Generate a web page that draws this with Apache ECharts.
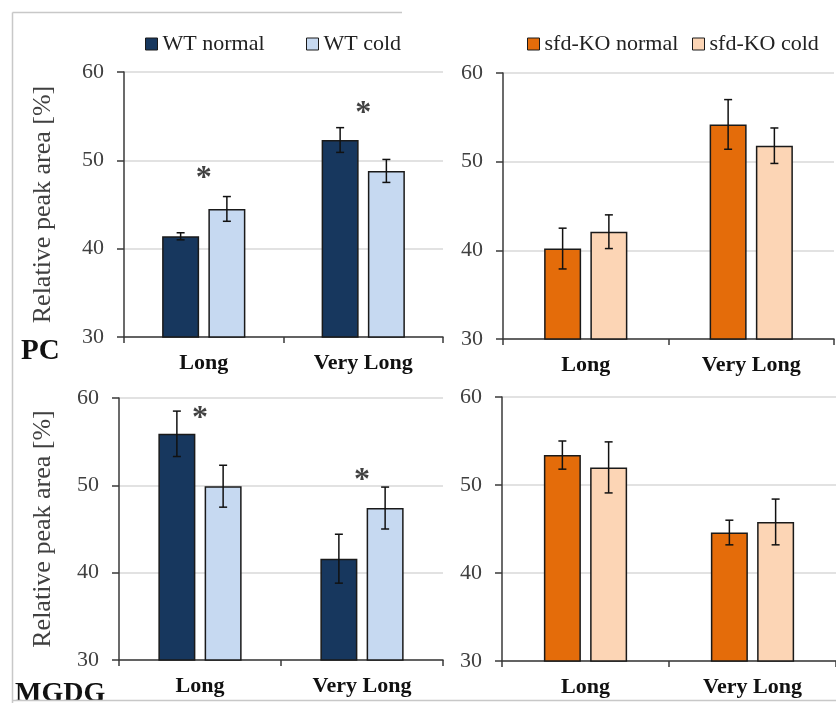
<!DOCTYPE html>
<html>
<head>
<meta charset="utf-8">
<title>Relative peak area of PC and MGDG species</title>
<script src="https://cdn.jsdelivr.net/npm/echarts@6/dist/echarts.min.js"></script>
<style>
  html, body { margin: 0; padding: 0; background: #ffffff; }
  #chart { width: 836px; height: 703px; }
</style>
</head>
<body>
<div id="chart"></div>
<script>
// Chain-length categories shared by all four panels
const categories = ['Long', 'Very Long'];

// Y axis ticks
const yMin = 30;
const yMax = 60;
const yStep = 10;

// PC, wild type (mean and SD)
const pcWtNormal = [41.4, 52.3];
const pcWtNormalErr = [0.4, 1.4];
const pcWtCold = [44.5, 48.8];
const pcWtColdErr = [1.4, 1.3];

// PC, sfd-KO
const pcKoNormal = [40.2, 54.2];
const pcKoNormalErr = [2.3, 2.8];
const pcKoCold = [42.1, 51.8];
const pcKoColdErr = [1.9, 2.0];

// MGDG, wild type
const mgdgWtNormal = [55.9, 41.6];
const mgdgWtNormalErr = [2.6, 2.8];
const mgdgWtCold = [49.9, 47.4];
const mgdgWtColdErr = [2.4, 2.4];

// MGDG, sfd-KO
const mgdgKoNormal = [53.4, 44.6];
const mgdgKoNormalErr = [1.6, 1.4];
const mgdgKoCold = [52.0, 45.8];
const mgdgKoColdErr = [2.9, 2.6];

// Significance markers (height on the value axis, per category)
const pcWtStars = [48.6, 56.0];
const mgdgWtStars = [58.3, 51.2];

// Series names
const nameWtNormal = 'WT normal';
const nameWtCold = 'WT cold';
const nameKoNormal = 'sfd-KO normal';
const nameKoCold = 'sfd-KO cold';

// ---- styling ----
const FONT = 'Liberation Serif';
const COL = {
  wtNormal: '#17375e',
  wtCold: '#c6d9f1',
  koNormal: '#e46c0a',
  koCold: '#fcd5b5'
};
const BAR_W = 37;
const BAR_GAP = 0.25;
const HALF_STEP = (BAR_W + BAR_W * BAR_GAP) / 2;

const grids = [
  { left: 124, top: 72, width: 319, height: 265 },   // PC, WT
  { left: 503, top: 73, width: 331, height: 266 },   // PC, sfd-KO
  { left: 119, top: 398, width: 324, height: 262 },  // MGDG, WT
  { left: 502, top: 397, width: 334, height: 264 }   // MGDG, sfd-KO
];

function xAxisFor(i) {
  return {
    type: 'category',
    gridIndex: i,
    data: categories,
    axisLine: { lineStyle: { color: '#3a3a3a', width: 1.5 } },
    axisTick: { show: true, length: 6, lineStyle: { color: '#3a3a3a', width: 1.5 } },
    axisLabel: {
      margin: 15,
      fontFamily: FONT,
      fontSize: 22,
      fontWeight: 'bold',
      color: '#111111'
    }
  };
}

function yAxisFor(i, withTitle, gap) {
  const axis = {
    type: 'value',
    gridIndex: i,
    min: yMin,
    max: yMax,
    interval: yStep,
    axisLine: { show: true, lineStyle: { color: '#3a3a3a', width: 1.5 } },
    axisTick: { show: true, length: 7, lineStyle: { color: '#3a3a3a', width: 1.5 } },
    splitLine: { show: true, lineStyle: { color: '#d9d9d9', width: 1.5 } },
    axisLabel: {
      margin: 20,
      fontFamily: FONT,
      fontSize: 22,
      color: '#404040'
    }
  };
  if (withTitle) {
    axis.name = 'Relative peak area [%]';
    axis.nameLocation = 'middle';
    axis.nameGap = gap;
    axis.nameTextStyle = { fontFamily: FONT, fontSize: 26, color: '#404040' };
  }
  return axis;
}

function barSeries(name, values, color, axisIdx) {
  return {
    type: 'bar',
    name: name,
    xAxisIndex: axisIdx,
    yAxisIndex: axisIdx,
    data: values,
    barWidth: BAR_W,
    barGap: (BAR_GAP * 100) + '%',
    itemStyle: { color: color, borderColor: '#1a1a1a', borderWidth: 1.5 },
    emphasis: { disabled: true },
    z: 2
  };
}

// Error bars: one custom series per panel, two bars per category
function errorSeries(axisIdx, leftVals, leftErr, rightVals, rightErr) {
  const data = [];
  categories.forEach(function (c, k) {
    data.push([k, leftVals[k], leftErr[k], -1]);
    data.push([k, rightVals[k], rightErr[k], 1]);
  });
  return {
    type: 'custom',
    xAxisIndex: axisIdx,
    yAxisIndex: axisIdx,
    data: data,
    z: 5,
    silent: true,
    renderItem: function (params, api) {
      const k = api.value(0);
      const v = api.value(1);
      const e = api.value(2);
      const side = api.value(3);
      const x = api.coord([k, v])[0] + side * HALF_STEP;
      const yTop = api.coord([k, v + e])[1];
      const yBot = api.coord([k, v - e])[1];
      const cap = 4;
      const st = { stroke: '#111111', lineWidth: 1.5 };
      return {
        type: 'group',
        children: [
          { type: 'line', shape: { x1: x, y1: yTop, x2: x, y2: yBot }, style: st },
          { type: 'line', shape: { x1: x - cap, y1: yTop, x2: x + cap, y2: yTop }, style: st },
          { type: 'line', shape: { x1: x - cap, y1: yBot, x2: x + cap, y2: yBot }, style: st }
        ]
      };
    }
  };
}

function starSeries(axisIdx, heights) {
  return {
    type: 'scatter',
    xAxisIndex: axisIdx,
    yAxisIndex: axisIdx,
    data: heights.map(function (h, k) { return [k, h]; }),
    symbolSize: 1,
    itemStyle: { color: 'rgba(0,0,0,0)' },
    silent: true,
    z: 6,
    label: {
      show: true,
      position: 'inside',
      formatter: '*',
      offset: [0, 6],
      fontFamily: FONT,
      fontSize: 32,
      fontWeight: 'bold',
      color: '#111111'
    }
  };
}

function legendFor(name, left) {
  return {
    left: left,
    top: 33,
    padding: 0,
    itemWidth: 12,
    itemHeight: 12,
    itemGap: 0,
    itemTextGap: 5,
    icon: 'rect',
    selectedMode: false,
    itemStyle: { borderColor: '#1a1a1a', borderWidth: 1 },
    textStyle: { fontFamily: FONT, fontSize: 22, color: '#222222' },
    data: [name]
  };
}

const chart = echarts.init(document.getElementById('chart'), null, { renderer: 'canvas' });

const frameStyle = { stroke: '#c8c8c8', lineWidth: 1.5 };

chart.setOption({
  animation: false,
  backgroundColor: '#ffffff',
  textStyle: { fontFamily: FONT },
  grid: grids,
  legend: [
    legendFor(nameWtNormal, 145),
    legendFor(nameWtCold, 306),
    legendFor(nameKoNormal, 527),
    legendFor(nameKoCold, 692)
  ],
  xAxis: [xAxisFor(0), xAxisFor(1), xAxisFor(2), xAxisFor(3)],
  yAxis: [yAxisFor(0, true, 68), yAxisFor(1, false), yAxisFor(2, true, 63), yAxisFor(3, false)],
  series: [
    barSeries(nameWtNormal, pcWtNormal, COL.wtNormal, 0),
    barSeries(nameWtCold, pcWtCold, COL.wtCold, 0),
    barSeries(nameKoNormal, pcKoNormal, COL.koNormal, 1),
    barSeries(nameKoCold, pcKoCold, COL.koCold, 1),
    barSeries(nameWtNormal, mgdgWtNormal, COL.wtNormal, 2),
    barSeries(nameWtCold, mgdgWtCold, COL.wtCold, 2),
    barSeries(nameKoNormal, mgdgKoNormal, COL.koNormal, 3),
    barSeries(nameKoCold, mgdgKoCold, COL.koCold, 3),
    errorSeries(0, pcWtNormal, pcWtNormalErr, pcWtCold, pcWtColdErr),
    errorSeries(1, pcKoNormal, pcKoNormalErr, pcKoCold, pcKoColdErr),
    errorSeries(2, mgdgWtNormal, mgdgWtNormalErr, mgdgWtCold, mgdgWtColdErr),
    errorSeries(3, mgdgKoNormal, mgdgKoNormalErr, mgdgKoCold, mgdgKoColdErr),
    starSeries(0, pcWtStars),
    starSeries(2, mgdgWtStars)
  ],
  graphic: [
    { type: 'line', shape: { x1: 12.5, y1: 12.5, x2: 402, y2: 12.5 }, style: frameStyle, silent: true },
    { type: 'line', shape: { x1: 12.5, y1: 12.5, x2: 12.5, y2: 703 }, style: frameStyle, silent: true },
    { type: 'text', left: 21, top: 337, silent: true,
      style: { text: 'PC', font: 'bold 29px "Liberation Serif"', fill: '#111111' } },
    { type: 'text', left: 15, top: 680, silent: true,
      style: { text: 'MGDG', font: 'bold 28px "Liberation Serif"', fill: '#111111' } },
    { type: 'line', shape: { x1: 12, y1: 700.5, x2: 836, y2: 700.5 }, style: frameStyle, silent: true, z: 100 }
  ]
});
</script>
</body>
</html>
